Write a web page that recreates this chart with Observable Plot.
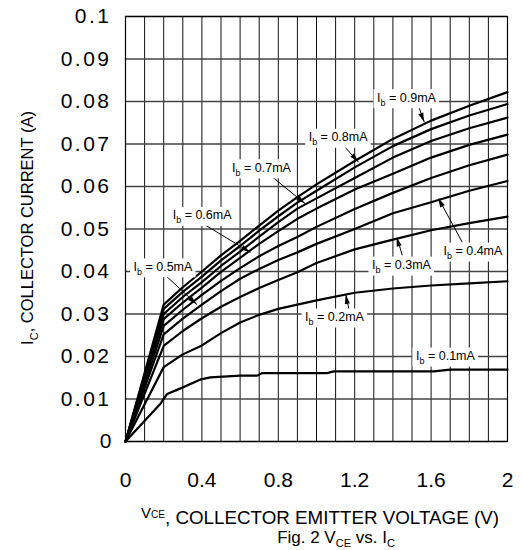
<!DOCTYPE html>
<html><head><meta charset="utf-8">
<script src="https://cdn.jsdelivr.net/npm/d3@7"></script>
<script src="https://cdn.jsdelivr.net/npm/@observablehq/plot@0.6"></script>
<style>
html,body{margin:0;padding:0;background:#fff;}
#chart svg{display:block;font-family:"Liberation Sans",Arial,sans-serif;}
</style>
</head><body><div id="chart"></div>
<script>
// ---- data ----
const xTicks = [0, 0.4, 0.8, 1.2, 1.6, 2];
const xGrid = [0,0.1,0.2,0.3,0.4,0.5,0.6,0.7,0.8,0.9,1,1.1,1.2,1.3,1.4,1.5,1.6,1.7,1.8,1.9,2];
const yTicks = [0,0.01,0.02,0.03,0.04,0.05,0.06,0.07,0.08,0.09,0.1];

const ibLevels = ["0.1","0.2","0.3","0.4","0.5","0.6","0.7","0.8","0.9"];

// V_CE sample points for Ib = 0.2 .. 0.9 mA curves
const vce = [0, 0.2, 0.3, 0.4, 0.5, 0.6, 0.7, 0.8, 0.9, 1.0, 1.2, 1.4, 1.6, 1.8, 2.0];
const ic02 = [0, .0175, .0205, .0226, .0255, .0280, .0298, .0312, .0322, .0332, .0350, .0360, .0367, .0372, .0377];
const ic03 = [0, .0225, .0260, .0290, .0317, .0340, .0361, .0380, .0398, .0420, .0452, .0475, .0497, .0514, .0529];
const ic04 = [0, .0252, .0289, .0322, .0354, .0383, .0406, .0427, .0445, .0465, .0500, .0537, .0563, .0590, .0613];
const ic05 = [0, .0272, .0310, .0345, .0378, .0408, .0436, .0460, .0481, .0505, .0547, .0585, .0620, .0650, .0675];
const ic06 = [0, .0288, .0327, .0362, .0399, .0432, .0465, .0495, .0524, .0548, .0593, .0630, .0668, .0698, .0722];
const ic07 = [0, .0300, .0340, .0375, .0413, .0447, .0482, .0516, .0548, .0572, .0620, .0668, .0707, .0737, .0762];
const ic08 = [0, .0312, .0352, .0388, .0426, .0460, .0496, .0530, .0562, .0590, .0645, .0695, .0735, .0767, .0794];
const ic09 = [0, .0322, .0363, .0400, .0438, .0472, .0508, .0543, .0575, .0605, .0660, .0712, .0755, .0790, .0822];
// Ib = 0.1 mA curve (own sample points)
const vce01 = [0, 0.183, 0.218, 0.288, 0.393, 0.445, 0.60, 0.69, 0.716, 1.056, 1.09, 1.614, 1.70, 2.0];
const ic01  = [0, .0089, .0112, .0125, .0146, .0151, .0155, .0155, .0161, .0161, .0165, .0165, .0169, .0169];

// curve labels: position (V, A) and arrow from/to
const labelText = ["Ib = 0.9mA","Ib = 0.8mA","Ib = 0.7mA","Ib = 0.6mA","Ib = 0.5mA","Ib = 0.4mA","Ib = 0.3mA","Ib = 0.2mA","Ib = 0.1mA"];
const labelV = [1.471, 1.113, 0.712, 0.401, 0.196, 1.819, 1.445, 1.094, 1.675];
const labelI = [0.0809, 0.0716, 0.0644, 0.0532, 0.0411, 0.0448, 0.0415, 0.0293, 0.0201];
const arrowV1 = [1.527, 1.126, 0.759, 0.393, 0.209, 1.763, 1.449, 1.169];
const arrowI1 = [0.0798, 0.0704, 0.0626, 0.0516, 0.0391, 0.0469, 0.0438, 0.0312];
const arrowV2 = [1.565, 1.221, 0.942, 0.654, 0.375, 1.640, 1.4225, 1.1555];
const arrowI2 = [0.0751, 0.0657, 0.0559, 0.0445, 0.0322, 0.0571, 0.0479, 0.0344];

// ---- tables ----
const series = [ic02, ic03, ic04, ic05, ic06, ic07, ic08, ic09];
const rows = [];
vce01.forEach((v, i) => rows.push({ib: "0.1", vce: v, ic: ic01[i]}));
series.forEach((arr, k) => arr.forEach((c, i) => rows.push({ib: ibLevels[k + 1], vce: vce[i], ic: c})));
const labels = labelText.map((t, i) => ({text: t, x: labelV[i], y: labelI[i]}));
const arrows = arrowV1.map((v, i) => ({x1: v, y1: arrowI1[i], x2: arrowV2[i], y2: arrowI2[i]}));

const plot = Plot.plot({
  width: 522, height: 550,
  marginLeft: 125, marginRight: 15, marginTop: 16, marginBottom: 109,
  style: {fontFamily: "Liberation Sans, Arial, sans-serif", background: "#fff", overflow: "visible"},
  x: {domain: [0, 2]},
  y: {domain: [0, 0.1]},
  marks: [
    Plot.gridX(xGrid, {stroke: "#111", strokeOpacity: 1, strokeWidth: 1}),
    Plot.gridY(yTicks, {stroke: "#444", strokeOpacity: 1, strokeWidth: 1.3}),
    Plot.axisX(xTicks, {tickSize: 0, tickPadding: 31, fontSize: 21, label: null, tickFormat: d => String(d), fill: "#000"}),
    Plot.axisY(yTicks, {tickSize: 0, tickPadding: 14, fontSize: 21, label: null, tickFormat: d => String(d), fill: "#000"}),
    Plot.line(rows, {x: "vce", y: "ic", z: "ib", stroke: "#000", strokeWidth: 2.2, strokeLinejoin: "round"}),
    Plot.link(arrows, {x1: "x1", y1: "y1", x2: "x2", y2: "y2", stroke: "#000", strokeWidth: 1}),
    Plot.text(labels, {x: "x", y: "y", text: "text", fontSize: 12.5, fill: "#000"}),
    Plot.frame({stroke: "#000", strokeWidth: 1.2})
  ]
});
document.getElementById("chart").appendChild(plot);

const svg = d3.select(plot);
const sx = plot.scale("x"), sy = plot.scale("y");

// wider spacing of the y tick labels, as in the reference
svg.selectAll("text").filter(function () {
  return yTicks.map(String).includes(this.textContent) && this.textContent.length > 1 && this.closest("g") && /y/.test(this.closest("g").getAttribute("aria-label") || "");
}).style("letter-spacing", "2.5px");

// subscripts in curve labels + white boxes behind them
const labelNodes = svg.selectAll("text").filter(function () { return this.textContent.startsWith("Ib = "); });
const labelParent = labelNodes.node().parentNode;
const boxG = d3.select(labelParent.parentNode.insertBefore(document.createElementNS("http://www.w3.org/2000/svg", "g"), labelParent));
labelNodes.each(function () {
  const t = d3.select(this);
  const s = this.textContent;
  t.text(null);
  t.append("tspan").text("I");
  t.append("tspan").attr("dy", 4).attr("font-size", 9).text(s.slice(1, 2));
  t.append("tspan").attr("dy", -4).text(s.slice(2));
  const b = this.getBBox();
  boxG.append("rect")
    .attr("transform", this.getAttribute("transform"))
    .attr("x", b.x - 3).attr("y", b.y - 1).attr("width", b.width + 6).attr("height", b.height + 2).attr("fill", "#fff");
});

// arrowheads
arrows.forEach(a => {
  const x1 = sx.apply(a.x1), y1 = sy.apply(a.y1), x2 = sx.apply(a.x2), y2 = sy.apply(a.y2);
  const dx = x2 - x1, dy = y2 - y1, len = Math.hypot(dx, dy);
  const ux = dx / len, uy = dy / len, L = 9, w = 2.6;
  const bx = x2 - ux * L, by = y2 - uy * L;
  svg.append("path")
    .attr("d", `M${x2},${y2}L${bx - uy * w},${by + ux * w}L${bx + uy * w},${by - ux * w}Z`)
    .attr("fill", "#000");
});

// axis titles and caption
const yt = svg.append("text").attr("transform", "translate(33,228) rotate(-90)")
  .attr("text-anchor", "middle").attr("font-size", 16.5).attr("fill", "#000");
yt.append("tspan").text("I");
yt.append("tspan").attr("dy", 5).attr("font-size", 11).text("C");
yt.append("tspan").attr("dy", -5).text(", COLLECTOR CURRENT (A)");

const xt = svg.append("text").attr("x", 320).attr("y", 524)
  .attr("text-anchor", "middle").attr("font-size", 18.8).attr("fill", "#000");
xt.append("tspan").attr("dy", -6).attr("font-size", 15).text("V");
xt.append("tspan").attr("font-size", 10).text("CE");
xt.append("tspan").attr("dy", 6).text(", COLLECTOR EMITTER VOLTAGE (V)");

const cap = svg.append("text").attr("x", 336).attr("y", 543)
  .attr("text-anchor", "middle").attr("font-size", 17).attr("fill", "#000");
cap.append("tspan").text("Fig. 2 V");
cap.append("tspan").attr("dy", 4).attr("font-size", 11).text("CE");
cap.append("tspan").attr("dy", -4).text(" vs. I");
cap.append("tspan").attr("dy", 4).attr("font-size", 11).text("C");
</script>
</body></html>
